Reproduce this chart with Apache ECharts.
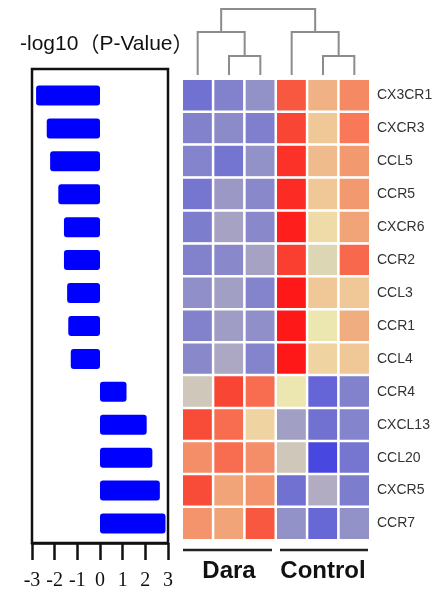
<!DOCTYPE html>
<html>
<head>
<meta charset="utf-8">
<script src="https://cdn.jsdelivr.net/npm/echarts@6/dist/echarts.min.js"></script>
<style>html,body{margin:0;padding:0;background:#fff;}#c{width:442px;height:591px;}</style>
</head>
<body>
<div id="c"></div>
<script>
const genes = ['CX3CR1','CXCR3','CCL5','CCR5','CXCR6','CCR2','CCL3','CCR1','CCL4','CCR4','CXCL13','CCL20','CXCR5','CCR7'];
const samples = ['Dara1','Dara2','Dara3','Control1','Control2','Control3'];
const groups = ['Dara','Control'];
const logP = [-2.82,-2.35,-2.2,-1.84,-1.59,-1.59,-1.45,-1.40,-1.29,1.17,2.06,2.31,2.64,2.89];
const xTicks = [-3,-2,-1,0,1,2,3];
const dara1 = [-1.3,-0.95,-0.9,-1.2,-1.05,-0.95,-0.7,-0.95,-0.8,-0.05,2.0,1.4,2.0,1.35];
const dara2 = [-0.95,-0.75,-1.25,-0.55,-0.4,-0.8,-0.45,-0.5,-0.35,2.05,1.7,1.7,1.2,1.2];
const dara3 = [-0.65,-1.0,-0.65,-0.8,-0.8,-0.4,-0.9,-0.7,-0.9,1.7,0.65,1.4,1.35,1.9];
const ctrl1 = [1.9,2.05,2.2,2.25,2.35,2.1,2.4,2.4,2.4,0.4,-0.45,-0.05,-1.3,-0.65];
const ctrl2 = [1.05,0.8,0.95,0.8,0.55,0.15,0.8,0.4,0.65,-1.55,-1.3,-2.0,-0.3,-1.5];
const ctrl3 = [1.45,1.6,1.3,1.3,1.2,1.75,0.8,1.1,0.8,-0.95,-0.9,-1.2,-1.05,-0.65];
// dendrogram merges: [childA, childB, height]; leaves 0..5, merged nodes 6..
const dendroMerges = [[1,2,0.63],[0,6,1.43],[4,5,0.63],[3,8,1.43],[7,9,2.2]];

const columns = [dara1,dara2,dara3,ctrl1,ctrl2,ctrl3];
const heatData = [];
columns.forEach((col,ci)=>col.forEach((v,ri)=>heatData.push([ci,ri,v])));

const nodeX = samples.map((s,i)=>i), nodeH = samples.map(()=>0);
const dendroLines = [];
dendroMerges.forEach(([a,b,h])=>{
  dendroLines.push({coords:[[nodeX[a],nodeH[a]],[nodeX[a],h],[nodeX[b],h],[nodeX[b],nodeH[b]]]});
  nodeX.push((nodeX[a]+nodeX[b])/2); nodeH.push(h);
});

const HM = {left:182, top:79, width:188, height:461};
const BX = {left:32, width:136};

const chart = echarts.init(document.getElementById('c'));
const sans = '"Liberation Sans", Arial, "Noto Sans CJK SC", sans-serif';
const cjk = '"Noto Sans CJK SC", sans-serif';
chart.setOption({
  animation:false,
  backgroundColor:'#fff',
  title:{text:'{a|-log10}{p|（}{a|P-Value}{p|）}', left:15, top:29,
    textStyle:{fontWeight:'normal', rich:{
      a:{fontFamily:sans, fontSize:21, fontWeight:'normal', color:'#111'},
      p:{fontFamily:cjk, fontSize:21, fontWeight:'normal', color:'#111'}}}},
  grid:[
    {left:BX.left, width:BX.width, top:69, height:475, show:true, borderColor:'#111', borderWidth:2.5, backgroundColor:'transparent'},
    {left:BX.left, width:BX.width, top:HM.top, height:HM.height},
    {left:HM.left, width:HM.width, top:HM.top, height:HM.height},
    {left:HM.left, width:HM.width, top:3, height:72}
  ],
  xAxis:[
    {gridIndex:0, type:'value', min:-3, max:3, interval:1, splitLine:{show:false},
      axisLine:{show:true, onZero:false, lineStyle:{color:'#111', width:2.5}},
      axisTick:{show:true, length:17, lineStyle:{color:'#111', width:2.5}},
      axisLabel:{margin:28, fontFamily:'"Liberation Serif","Times New Roman",serif', fontSize:20, color:'#111',
        formatter:v=>xTicks.includes(v)?String(v):''}},
    {gridIndex:1, type:'value', min:-3, max:3, show:false},
    {gridIndex:2, type:'category', data:samples, show:false},
    {gridIndex:3, type:'value', min:-0.5, max:5.5, show:false},
    {gridIndex:2, type:'category', data:groups, position:'bottom', axisLine:{show:false}, axisTick:{show:false},
      axisLabel:{interval:0, hideOverlap:false, margin:19, fontFamily:sans, fontWeight:'bold', fontSize:24, color:'#111'}}
  ],
  yAxis:[
    {gridIndex:0, type:'value', show:false, min:0, max:1},
    {gridIndex:1, type:'category', data:genes, inverse:true, show:false},
    {gridIndex:2, type:'category', data:genes, inverse:true, position:'right',
      axisLine:{show:false}, axisTick:{show:false},
      axisLabel:{margin:7, fontFamily:sans, fontSize:14, color:'#333'}},
    {gridIndex:3, type:'value', min:0, max:2.4, show:false}
  ],
  visualMap:{show:false, type:'continuous', seriesIndex:1, min:-2, max:2.4,
    inRange:{color:['#4848e0','#6262d8','#7676d0','#8888ca','#a6a2c4','#d4ccb8','#ece6b0','#f0c898','#f0a478','#f87858','#f84c38','#ff1818']}},
  series:[
    {type:'bar', xAxisIndex:1, yAxisIndex:1, data:logP, barWidth:20,
      itemStyle:{color:'#0000ff', borderRadius:3}},
    {type:'heatmap', xAxisIndex:2, yAxisIndex:2, data:heatData,
      itemStyle:{borderColor:'#fff', borderWidth:2.5}},
    {type:'lines', coordinateSystem:'cartesian2d', xAxisIndex:3, yAxisIndex:3, polyline:true,
      data:dendroLines, lineStyle:{color:'#8c8c8c', width:2, opacity:1}}
  ]
});

// group underline bars derived from heatmap geometry
const colW = HM.width/samples.length;
const y = HM.top + HM.height + 10;
chart.setOption({graphic:[
  {type:'line', shape:{x1:HM.left+1, y1:y, x2:HM.left+3*colW-4, y2:y}, style:{stroke:'#222', lineWidth:2.5}},
  {type:'line', shape:{x1:HM.left+3*colW+4, y1:y, x2:HM.left+6*colW-2, y2:y}, style:{stroke:'#222', lineWidth:2.5}}
]});
</script>
</body>
</html>
